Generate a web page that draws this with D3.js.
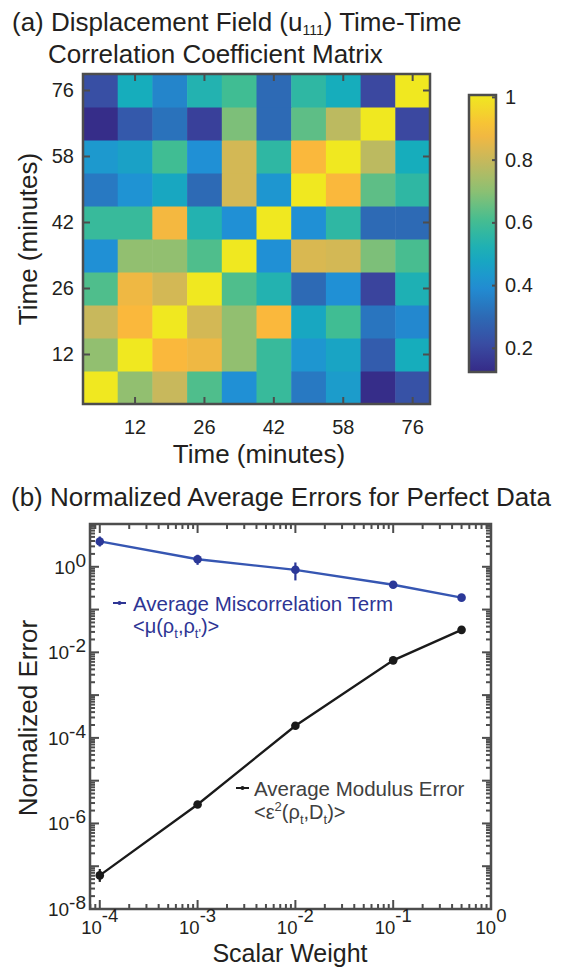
<!DOCTYPE html>
<html>
<head>
<meta charset="utf-8">
<script src="https://cdn.jsdelivr.net/npm/d3@7"></script>
<style>
  body { margin: 0; background: #fff; }
  svg { display: block; font-family: "Liberation Sans", Arial, sans-serif; }
</style>
</head>
<body>
<script>
// ---- data: panel (a) ----
var times = [4, 12, 19, 26, 34, 42, 50, 58, 67, 76];
var timeTicks = [12, 26, 42, 58, 76];
// rows go from the first time (bottom) to the last (top), columns left to right
var corrRows = [
  [1.00, 0.71, 0.80, 0.62, 0.40, 0.58, 0.34, 0.44, 0.13, 0.23],
  [0.71, 1.00, 0.89, 0.87, 0.71, 0.58, 0.42, 0.47, 0.26, 0.50],
  [0.80, 0.89, 1.00, 0.82, 0.71, 0.89, 0.48, 0.60, 0.33, 0.38],
  [0.62, 0.87, 0.82, 1.00, 0.62, 0.53, 0.30, 0.40, 0.19, 0.52],
  [0.40, 0.71, 0.71, 0.62, 1.00, 0.40, 0.83, 0.82, 0.68, 0.61],
  [0.58, 0.58, 0.88, 0.53, 0.40, 1.00, 0.40, 0.56, 0.30, 0.30],
  [0.34, 0.41, 0.48, 0.30, 0.82, 0.42, 1.00, 0.89, 0.64, 0.56],
  [0.43, 0.46, 0.60, 0.40, 0.82, 0.56, 0.89, 1.00, 0.78, 0.50],
  [0.13, 0.25, 0.32, 0.18, 0.68, 0.30, 0.64, 0.78, 1.00, 0.20],
  [0.22, 0.50, 0.37, 0.53, 0.60, 0.30, 0.56, 0.50, 0.20, 1.00]
];
var cbarTicks = [0.2, 0.4, 0.6, 0.8, 1];
var cbarDomain = [0.123, 1.006];

// ---- data: panel (b) ----
var weights = [1e-4, 1e-3, 1e-2, 1e-1, 0.5];
var miscorr = [3.9, 1.5, 0.85, 0.38, 0.19];
var miscorrLo = [2.98, 1.11, 0.48, 0.35, 0.18];
var miscorrHi = [5.1, 1.91, 1.26, 0.41, 0.20];
var modErr = [6.1e-8, 2.77e-6, 1.92e-4, 6.5e-3, 3.35e-2];
var modErrLo = [4.3e-8, 2.6e-6, 1.8e-4, 6.2e-3, 3.25e-2];
var modErrHi = [8.6e-8, 2.95e-6, 2.0e-4, 6.8e-3, 3.45e-2];
var xLabelPows = [-4, -3, -2, -1, 0];
var yLabelPows = [0, -2, -4, -6, -8];

var ink = "#231f20";
var frame = "#4d4d4d";

var svg = d3.select("body").append("svg")
    .attr("width", 569)
    .attr("height", 967);

// parula-like map (as printed)
var color = d3.scaleLinear()
    .domain([0.123, 0.2, 0.3, 0.4, 0.5, 0.6, 0.7, 0.8, 0.89, 1.0])
    .range(["#352a87", "#3b48a0", "#2d6ab5", "#2090d5", "#16adbc", "#40bd93",
            "#8cc072", "#c8b85c", "#fab83c", "#f0e820"])
    .clamp(true);

// ================= panel (a) =================
var hx = d3.scaleBand().domain(times).range([83, 430]);
var hy = d3.scaleBand().domain(times).range([404, 74]);

var cells = [];
corrRows.forEach(function (row, i) {
  row.forEach(function (v, j) {
    cells.push({ r: times[i], c: times[j], v: v });
  });
});

svg.append("g").selectAll("rect")
    .data(cells)
    .enter().append("rect")
    .attr("x", d => hx(d.c))
    .attr("y", d => hy(d.r))
    .attr("width", hx.bandwidth() + 0.5)
    .attr("height", hy.bandwidth() + 0.5)
    .attr("fill", d => color(d.v));

function styleAxis(g, fs) {
  g.select(".domain").remove();
  g.selectAll(".tick line").attr("stroke", frame).attr("stroke-width", 2);
  g.selectAll(".tick text").attr("fill", ink).style("font-size", fs + "px")
      .style("font-family", "Liberation Sans, Arial, sans-serif");
}

svg.append("g").attr("transform", "translate(0,404)")
    .call(d3.axisBottom(hx).tickValues(timeTicks).tickSize(-7).tickPadding(16))
    .call(styleAxis, 20);
svg.append("g").attr("transform", "translate(83,0)")
    .call(d3.axisLeft(hy).tickValues(timeTicks).tickSize(-7).tickPadding(9))
    .call(styleAxis, 20);
svg.append("g").attr("transform", "translate(0,74)")
    .call(d3.axisTop(hx).tickValues(timeTicks).tickSize(-7).tickFormat(""))
    .call(styleAxis, 20);
svg.append("g").attr("transform", "translate(430,0)")
    .call(d3.axisRight(hy).tickValues(timeTicks).tickSize(-7).tickFormat(""))
    .call(styleAxis, 20);

svg.append("rect")
    .attr("x", 83).attr("y", 74).attr("width", 347).attr("height", 330)
    .attr("fill", "none").attr("stroke", frame).attr("stroke-width", 2.5);

// colorbar
var cy = d3.scaleLinear().domain(cbarDomain).range([372, 95]);
var grad = svg.append("defs").append("linearGradient")
    .attr("id", "cbar").attr("x1", 0).attr("y1", 1).attr("x2", 0).attr("y2", 0);
d3.range(0, 1.0001, 0.05).forEach(function (t) {
  var v = cbarDomain[0] + t * (cbarDomain[1] - cbarDomain[0]);
  grad.append("stop").attr("offset", t).attr("stop-color", color(v));
});
svg.append("rect")
    .attr("x", 469).attr("y", 95).attr("width", 27).attr("height", 277)
    .attr("fill", "url(#cbar)").attr("stroke", frame).attr("stroke-width", 2.5);
svg.append("g").attr("transform", "translate(496,0)")
    .call(d3.axisRight(cy).tickValues(cbarTicks).tickSize(-4).tickPadding(9)
        .tickFormat(d3.format("~g")))
    .call(styleAxis, 20);

// titles & labels (a)
var tA = svg.append("text").attr("x", 12).attr("y", 31)
    .attr("fill", ink).style("font-size", "26px");
tA.append("tspan").text("(a) Displacement Field (u");
tA.append("tspan").attr("dy", 4).style("font-size", "14px").text("111");
tA.append("tspan").attr("dy", -4).text(") Time-Time");
svg.append("text").attr("x", 48).attr("y", 63)
    .attr("fill", ink).style("font-size", "26px")
    .text("Correlation Coefficient Matrix");

svg.append("text").attr("x", 259).attr("y", 463)
    .attr("text-anchor", "middle").attr("fill", ink).style("font-size", "26px")
    .text("Time (minutes)");
svg.append("text").attr("transform", "translate(37,239) rotate(-90)")
    .attr("text-anchor", "middle").attr("fill", ink).style("font-size", "26px")
    .text("Time (minutes)");

// ================= panel (b) =================
var L = 90, R = 491, T = 524, B = 909;
var xs = d3.scaleLog().domain([Math.pow(10, -4.1), 1]).range([L, R]);
var ys = d3.scaleLog().domain([1e-8, 10]).range([B, T]);

function isMajor(v) {
  var p = Math.log10(v);
  return Math.abs(p - Math.round(p)) < 1e-9;
}

var ticksG = svg.append("g").attr("stroke", frame).attr("stroke-width", 2);
xs.ticks().forEach(function (v) {
  var len = isMajor(v) ? 9 : 5;
  var px = xs(v);
  ticksG.append("line").attr("x1", px).attr("x2", px).attr("y1", B).attr("y2", B - len);
  ticksG.append("line").attr("x1", px).attr("x2", px).attr("y1", T).attr("y2", T + len);
});
ys.ticks().forEach(function (v) {
  var len = isMajor(v) ? 9 : 5;
  var py = ys(v);
  ticksG.append("line").attr("y1", py).attr("y2", py).attr("x1", L).attr("x2", L + len);
  ticksG.append("line").attr("y1", py).attr("y2", py).attr("x1", R).attr("x2", R - len);
});
svg.append("rect")
    .attr("x", L).attr("y", T).attr("width", R - L).attr("height", B - T)
    .attr("fill", "none").attr("stroke", frame).attr("stroke-width", 2.5);

// tick labels
xLabelPows.forEach(function (p) {
  var t = svg.append("text").attr("x", xs(Math.pow(10, p))).attr("y", 934)
      .attr("text-anchor", "middle").attr("fill", ink).style("font-size", "18.5px");
  t.append("tspan").text("10");
  t.append("tspan").attr("dy", -12).text(String(p));
});
yLabelPows.forEach(function (p) {
  var t = svg.append("text").attr("x", L - 4).attr("y", ys(Math.pow(10, p)) + 7)
      .attr("text-anchor", "end").attr("fill", ink).style("font-size", "19px");
  t.append("tspan").text("10");
  t.append("tspan").attr("dy", -7).text(String(p));
});

// series
function drawSeries(vals, lo, hi, lineCol, dotCol) {
  var pts = weights.map((w, i) => ({ w: w, v: vals[i], lo: lo[i], hi: hi[i] }));
  var line = d3.line().x(d => xs(d.w)).y(d => ys(d.v));
  svg.append("path").datum(pts).attr("d", line)
      .attr("fill", "none").attr("stroke", lineCol).attr("stroke-width", 2.3);
  svg.append("g").selectAll("line").data(pts).enter().append("line")
      .attr("x1", d => xs(d.w)).attr("x2", d => xs(d.w))
      .attr("y1", d => ys(d.lo)).attr("y2", d => ys(d.hi))
      .attr("stroke", dotCol).attr("stroke-width", 2.2);
  svg.append("g").selectAll("circle").data(pts).enter().append("circle")
      .attr("cx", d => xs(d.w)).attr("cy", d => ys(d.v)).attr("r", 4.3)
      .attr("fill", dotCol);
}
drawSeries(miscorr, miscorrLo, miscorrHi, "#3656b2", "#2b3898");
drawSeries(modErr, modErrLo, modErrHi, "#1a1a1a", "#1a1a1a");

// legends
function legendKey(x, y, col) {
  svg.append("line").attr("x1", x).attr("x2", x + 13).attr("y1", y).attr("y2", y)
      .attr("stroke", col).attr("stroke-width", 2);
  svg.append("circle").attr("cx", x + 6.5).attr("cy", y).attr("r", 2).attr("fill", col);
}
var blueText = "#2e3594";
legendKey(113, 603, blueText);
svg.append("text").attr("x", 133).attr("y", 611).attr("fill", blueText)
    .style("font-size", "20.5px").text("Average Miscorrelation Term");
var m2 = svg.append("text").attr("x", 133).attr("y", 633).attr("fill", blueText)
    .style("font-size", "20px");
m2.append("tspan").text("<\u03bc(\u03c1");
m2.append("tspan").attr("dy", 5).style("font-size", "13px").text("t");
m2.append("tspan").attr("dy", -5).text(",\u03c1");
m2.append("tspan").attr("dy", 5).style("font-size", "13px").text("t'");
m2.append("tspan").attr("dy", -5).text(")>");

var greyText = "#404040";
legendKey(236, 788, "#1a1a1a");
svg.append("text").attr("x", 254).attr("y", 796).attr("fill", greyText)
    .style("font-size", "20.5px").text("Average Modulus Error");
var e2 = svg.append("text").attr("x", 254).attr("y", 819).attr("fill", greyText)
    .style("font-size", "20px");
e2.append("tspan").text("<\u03b5");
e2.append("tspan").attr("dy", -8).style("font-size", "13px").text("2");
e2.append("tspan").attr("dy", 8).text("(\u03c1");
e2.append("tspan").attr("dy", 5).style("font-size", "13px").text("t");
e2.append("tspan").attr("dy", -5).text(",D");
e2.append("tspan").attr("dy", 5).style("font-size", "13px").text("t");
e2.append("tspan").attr("dy", -5).text(")>");

// titles & labels (b)
svg.append("text").attr("x", 11).attr("y", 506)
    .attr("fill", ink).style("font-size", "26px")
    .text("(b) Normalized Average Errors for Perfect Data");
svg.append("text").attr("x", 290).attr("y", 962)
    .attr("text-anchor", "middle").attr("fill", ink).style("font-size", "25px")
    .text("Scalar Weight");
svg.append("text").attr("transform", "translate(37,718) rotate(-90)")
    .attr("text-anchor", "middle").attr("fill", ink).style("font-size", "26px")
    .text("Normalized Error");
</script>
</body>
</html>
